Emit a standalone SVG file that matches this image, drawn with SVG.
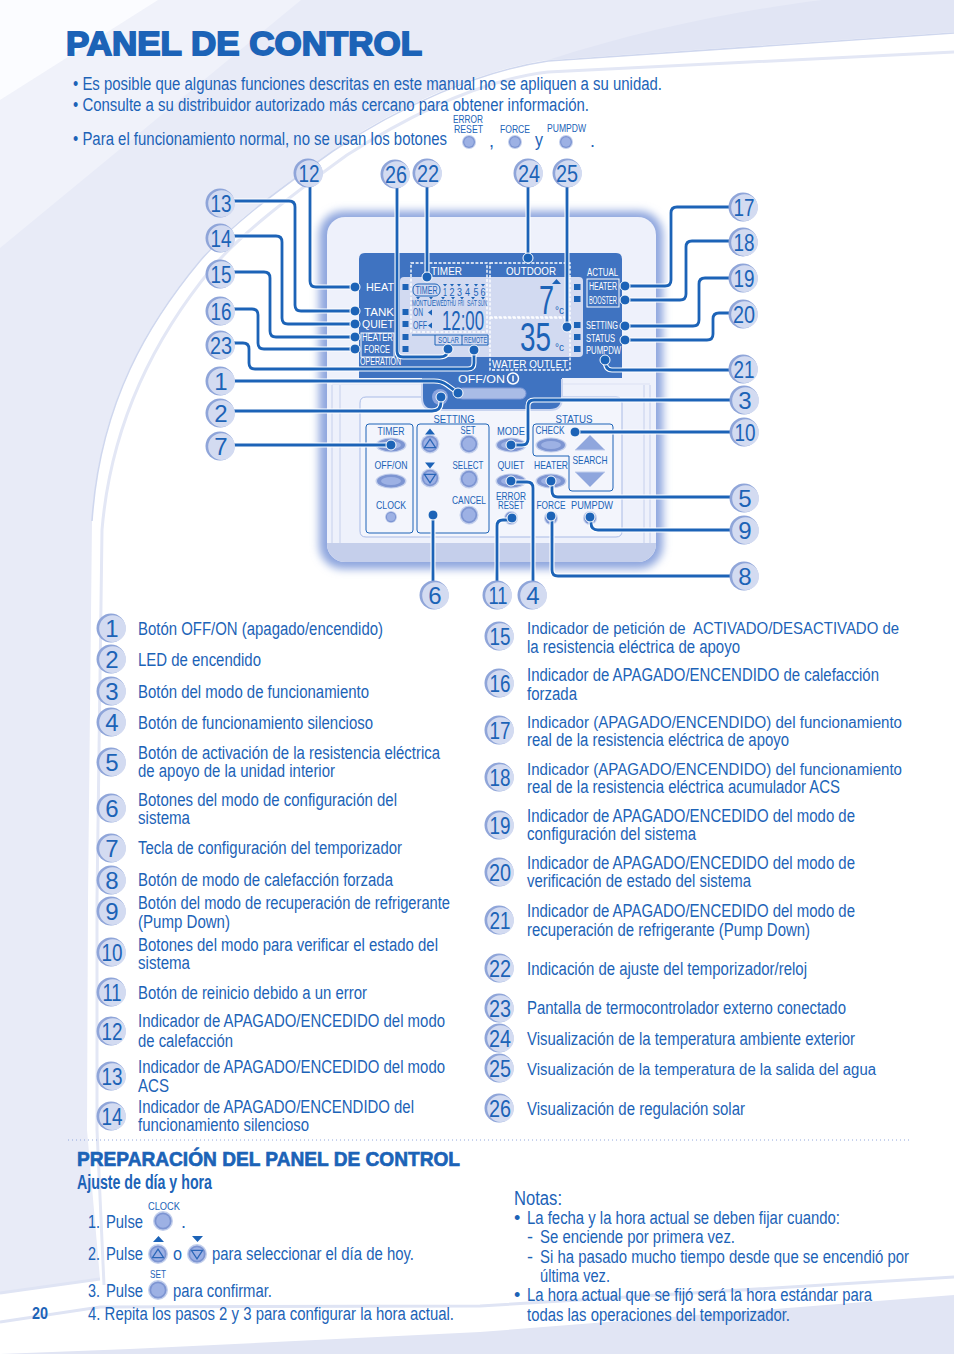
<svg xmlns="http://www.w3.org/2000/svg" width="954" height="1354" viewBox="0 0 954 1354">
<style>
text{font-family:"Liberation Sans",Arial,sans-serif;fill:#1c63b7}
.t{font-size:18px}
.tn{font-size:17.3px}
.n{font-size:24px}
.s{font-size:10.5px}
.w{fill:#fff;font-size:11px}
.x{fill:#fff;font-size:10px}
.l{font-size:8.5px}
.ln{fill:none;stroke:#1c63b7;stroke-width:1}
.wl{fill:none;stroke:#fff;stroke-width:1}
.da{fill:none;stroke:#fff;stroke-width:1.4;stroke-dasharray:3 1.6}
.d{fill:#1c63b7;stroke:#fff;stroke-width:1}
.sq{fill:#1c63b7}
</style>
<defs>
<filter id="blur" x="-10%" y="-10%" width="120%" height="120%"><feGaussianBlur stdDeviation="4"/></filter>
<g id="badge"><circle r="14.5" fill="#8fa5d9"/><circle cx="1.6" cy="0.6" r="13.4" fill="#d3dbf1"/></g>
<g id="rb"><circle r="1" fill="#c3cfec"/><circle r="0.86" fill="#7d95d2"/><circle r="0.68" fill="#9db1e4"/></g>
<g id="eb"><ellipse rx="15.500" ry="7.500" fill="#c3cfec"/><ellipse rx="14" ry="6.400" fill="#7d95d2"/><ellipse rx="10" ry="4" fill="#9db1e4"/></g>
<path id="tu" d="M0-.55 .62 .4H-.62Z" fill="none" stroke="#2a66b8" stroke-width=".14"/>
<path id="td" d="M0 .55 .62-.4H-.62Z" fill="none" stroke="#2a66b8" stroke-width=".14"/>
</defs>

<g id="background">
<rect width="954" height="1354" fill="#fff"/>
<path d="M0 0H954V32L548 60C480 70 400 105 333 150C270 195 230 225 200 260C150 320 100 400 92 520L88 900 87 1130 100 1279 0 1293Z" fill="#e8ebf7"/>
<path d="M0 0H301L0 248Z" fill="#f0f2fa"/>
<path d="M0 0H158L0 100Z" fill="#fbfcff"/>
<path d="M822 0H954V32L548 60C640 30 740 10 822 0Z" fill="#e1e5f4"/>
<path d="M954 52 548 72C480 80 410 115 347 155C285 200 240 235 212 268C165 325 112 410 102 530L97 900 97 1130 104 1285" fill="none" stroke="#e3e7f5" stroke-width="3"/>
<path d="M954 33 548 61C480 71 400 106 333 151C270 196 230 226 200 261C150 321 100 401 92 521" fill="none" stroke="#cfd7ee" stroke-width="1.600"/>
<path d="M0 1322 100 1307 480 1306 954 1277" fill="none" stroke="#dfe4f4" stroke-width="3"/>
<path d="M0 1293 100 1279" fill="none" stroke="#dfe4f4" stroke-width="3"/>
<path d="M0 1354 130 1349 480 1332 954 1295V1354Z" fill="#e1e5f4"/>
</g>

<g id="controller">
<rect x="319" y="211" width="344" height="358" rx="24" fill="#8ea6de" filter="url(#blur)"/>
<rect x="327" y="217" width="329" height="345" rx="18" fill="#eef1fb"/>
<path d="M327 543H656V544A18 18 0 0 1 638 562H345A18 18 0 0 1 327 544Z" fill="#c5cfeb"/>
<path d="M332 385V543M340 385V543M650 385V543M644 385V543" stroke="#cdd6ef" stroke-width="1.200" fill="none"/>
<path d="M332 384H650" stroke="#dce2f4" stroke-width="1.200"/>
<path d="M368 397H616Q622 397 622 403V531Q622 537 616 537H366Q360 537 360 531V403Q360 397 366 397Z" fill="#f3f5fc" stroke="#a9bbe6" stroke-width="1"/>
<path d="M365 253H616Q622 253 622 259V378H562V398Q562 410 550 410H434Q422 410 422 398V378H359V259Q359 253 365 253Z" fill="#3f73c1"/>
<path d="M422 379V398Q422 410 434 410H550Q562 410 562 398V379" fill="none" stroke="#c9d4ef" stroke-width="2"/>
<rect x="400" y="277" width="183" height="80" rx="4" fill="#d2daf1"/>
<rect x="411" y="263" width="76" height="14" fill="#3f73c1"/>
<rect x="490" y="263" width="80" height="14" fill="#3f73c1"/>
<path d="M412 335H488M435 335V345M462 335V345M488 335V345M435 345H488" class="ln"/>
<rect x="490" y="357" width="80" height="13" fill="#3f73c1"/>
<g class="sq">
<rect x="402.500" y="284" width="6" height="6"/><rect x="402.500" y="309" width="6" height="6"/><rect x="402.500" y="321" width="6" height="6"/><rect x="402.500" y="334" width="6" height="6"/><rect x="402.500" y="346" width="6" height="6"/>
<rect x="574" y="284" width="6.500" height="6"/><rect x="574" y="296" width="6.500" height="6"/><rect x="574" y="322" width="6.500" height="6"/><rect x="574" y="334" width="6.500" height="6"/><rect x="574" y="346" width="6.500" height="6"/>
</g>
<rect x="411" y="263" width="76" height="69" class="da"/>
<rect x="490" y="263" width="80" height="54" class="da"/>
<rect x="490" y="318" width="80" height="52" class="da"/>
<rect x="361" y="333" width="33" height="24" class="wl"/>
<rect x="587" y="279" width="32" height="28" class="wl"/>
<text class="w" x="366" y="291" textLength="28" lengthAdjust="spacingAndGlyphs">HEAT</text>
<text class="w" x="364" y="316" textLength="30" lengthAdjust="spacingAndGlyphs">TANK</text>
<text class="w" x="362" y="328" textLength="32" lengthAdjust="spacingAndGlyphs">QUIET</text>
<text class="x" x="362" y="341" textLength="31" lengthAdjust="spacingAndGlyphs">HEATER</text>
<text class="x" x="364" y="353" textLength="26" lengthAdjust="spacingAndGlyphs">FORCE</text>
<text class="x" x="360" y="365" textLength="41" lengthAdjust="spacingAndGlyphs">OPERATION</text>
<text class="w" x="431" y="275" textLength="31" lengthAdjust="spacingAndGlyphs">TIMER</text>
<text class="w" x="506" y="275" textLength="50" lengthAdjust="spacingAndGlyphs">OUTDOOR</text>
<text class="w" x="492" y="368" textLength="76" lengthAdjust="spacingAndGlyphs">WATER OUTLET</text>
<text class="x" x="587" y="276" textLength="31" lengthAdjust="spacingAndGlyphs">ACTUAL</text>
<text class="x" x="589" y="290" textLength="28" lengthAdjust="spacingAndGlyphs">HEATER</text>
<text class="x" x="589" y="304" textLength="28" lengthAdjust="spacingAndGlyphs">BOOSTER</text>
<text class="x" x="586" y="329" textLength="32" lengthAdjust="spacingAndGlyphs">SETTING</text>
<text class="x" x="586" y="342" textLength="29" lengthAdjust="spacingAndGlyphs">STATUS</text>
<text class="x" x="586" y="354" textLength="35" lengthAdjust="spacingAndGlyphs">PUMPDW</text>
<rect x="413" y="284" width="27" height="12" rx="5" class="ln"/>
<text x="415.500" y="294" style="font-size:10px" textLength="22" lengthAdjust="spacingAndGlyphs">TIMER</text>
<path d="M443 284h4l-2 2.500zM450 284h4l-2 2.500zM457 284h4l-2 2.500zM465 284h4l-2 2.500zM474 284h4l-2 2.500zM481 284h4l-2 2.500zM416 297h4l-2 2.500zM429 297h4l-2 2.500zM441 297h4l-2 2.500zM451 297h4l-2 2.500zM460 297h4l-2 2.500zM471 297h4l-2 2.500zM481 297h4l-2 2.500z" fill="#1c63b7"/>
<text x="445" y="296" style="font-size:11px" text-anchor="middle" textLength="4" lengthAdjust="spacingAndGlyphs">1</text>
<text x="452" y="296" style="font-size:11px" text-anchor="middle" textLength="5" lengthAdjust="spacingAndGlyphs">2</text>
<text x="459.500" y="296" style="font-size:11px" text-anchor="middle" textLength="5" lengthAdjust="spacingAndGlyphs">3</text>
<text x="467.500" y="296" style="font-size:11px" text-anchor="middle" textLength="5" lengthAdjust="spacingAndGlyphs">4</text>
<text x="476" y="296" style="font-size:11px" text-anchor="middle" textLength="5" lengthAdjust="spacingAndGlyphs">5</text>
<text x="483" y="296" style="font-size:11px" text-anchor="middle" textLength="5" lengthAdjust="spacingAndGlyphs">6</text>
<text class="l" x="412" y="306" textLength="11" lengthAdjust="spacingAndGlyphs">MON</text>
<text class="l" x="423" y="306" textLength="13" lengthAdjust="spacingAndGlyphs">TUE</text>
<text class="l" x="436" y="306" textLength="11" lengthAdjust="spacingAndGlyphs">WED</text>
<text class="l" x="447" y="306" textLength="9" lengthAdjust="spacingAndGlyphs">THU</text>
<text class="l" x="458" y="306" textLength="6" lengthAdjust="spacingAndGlyphs">FRI</text>
<text class="l" x="467" y="306" textLength="10" lengthAdjust="spacingAndGlyphs">SAT</text>
<text class="l" x="478" y="306" textLength="9" lengthAdjust="spacingAndGlyphs">SUN</text>
<text x="413" y="316" style="font-size:10px" textLength="10" lengthAdjust="spacingAndGlyphs">ON</text>
<text x="413" y="329" style="font-size:10px" textLength="14" lengthAdjust="spacingAndGlyphs">OFF</text>
<path d="M428 312.500l4-3v6zM428 325.500l4-3v6zM561 284h-9l4.500-5z" fill="#1c63b7"/>
<text x="442" y="330" style="font-size:27px" textLength="42" lengthAdjust="spacingAndGlyphs">12:00</text>
<text x="539" y="314" style="font-size:40px" textLength="15" lengthAdjust="spacingAndGlyphs">7</text>
<text x="520" y="351" style="font-size:40px" textLength="31" lengthAdjust="spacingAndGlyphs">35</text>
<text x="555" y="314" style="font-size:10px" textLength="9" lengthAdjust="spacingAndGlyphs">°c</text>
<text x="555" y="351" style="font-size:10px" textLength="9" lengthAdjust="spacingAndGlyphs">°c</text>
<text class="l" x="438" y="343" textLength="21" lengthAdjust="spacingAndGlyphs">SOLAR</text>
<text class="l" x="464" y="343" textLength="23" lengthAdjust="spacingAndGlyphs">REMOTE</text>
<text class="w" x="458" y="383" textLength="47" lengthAdjust="spacingAndGlyphs">OFF/ON</text>
<circle cx="513" cy="378.500" r="5.500" fill="none" stroke="#fff" stroke-width="1.500"/>
<path d="M513 375.500v6" stroke="#fff" stroke-width="1.500"/>
<rect x="457" y="388" width="69" height="11" rx="5.500" fill="#a9bce6" stroke="#7f9ad8"/>
<circle cx="440" cy="397" r="8" fill="#8aa4de"/>

<text class="s" x="454" y="423" text-anchor="middle" textLength="41" lengthAdjust="spacingAndGlyphs">SETTING</text>
<text class="s" x="574" y="423" text-anchor="middle" textLength="37" lengthAdjust="spacingAndGlyphs">STATUS</text>
<rect x="366" y="424" width="47" height="109" rx="3" class="ln"/>
<rect x="417" y="424" width="72" height="109" rx="3" class="ln"/>
<path d="M536 424H610Q613 424 613 427V488Q613 491 610 491H572Q569 491 569 488V456H536Q533 456 533 453V427Q533 424 536 424Z" class="ln"/>
<text class="s" x="391" y="435" text-anchor="middle" textLength="27" lengthAdjust="spacingAndGlyphs">TIMER</text>
<text class="s" x="391" y="469" text-anchor="middle" textLength="33" lengthAdjust="spacingAndGlyphs">OFF/ON</text>
<text class="s" x="391" y="509" text-anchor="middle" textLength="30" lengthAdjust="spacingAndGlyphs">CLOCK</text>
<text class="s" x="468" y="434" text-anchor="middle" textLength="15" lengthAdjust="spacingAndGlyphs">SET</text>
<text class="s" x="468" y="469" text-anchor="middle" textLength="31" lengthAdjust="spacingAndGlyphs">SELECT</text>
<text class="s" x="469" y="504" text-anchor="middle" textLength="34" lengthAdjust="spacingAndGlyphs">CANCEL</text>
<text class="s" x="511" y="435" text-anchor="middle" textLength="28" lengthAdjust="spacingAndGlyphs">MODE</text>
<text class="s" x="511" y="469" text-anchor="middle" textLength="27" lengthAdjust="spacingAndGlyphs">QUIET</text>
<text class="s" x="551" y="469" text-anchor="middle" textLength="34" lengthAdjust="spacingAndGlyphs">HEATER</text>
<text class="s" x="550" y="434" text-anchor="middle" textLength="29" lengthAdjust="spacingAndGlyphs">CHECK</text>
<text class="s" x="590" y="464" text-anchor="middle" textLength="35" lengthAdjust="spacingAndGlyphs">SEARCH</text>
<text class="s" x="511" y="500" text-anchor="middle" textLength="30" lengthAdjust="spacingAndGlyphs">ERROR</text>
<text class="s" x="511" y="509" text-anchor="middle" textLength="26" lengthAdjust="spacingAndGlyphs">RESET</text>
<text class="s" x="551" y="509" text-anchor="middle" textLength="29" lengthAdjust="spacingAndGlyphs">FORCE</text>
<text class="s" x="592" y="509" text-anchor="middle" textLength="42" lengthAdjust="spacingAndGlyphs">PUMPDW</text>
<use href="#eb" transform="translate(391,445)"/>
<use href="#eb" transform="translate(391,481)"/>
<use href="#rb" transform="translate(391,517) scale(6)"/>
<use href="#rb" transform="translate(430,444) scale(9.500)"/>
<use href="#tu" transform="translate(430,444) scale(9)"/>
<use href="#rb" transform="translate(430,478) scale(9.500)"/>
<use href="#td" transform="translate(430,478) scale(9)"/>
<path d="M425 434.500h10l-5-6zM425 462.500h10l-5 6z" fill="#1c63b7"/>
<use href="#rb" transform="translate(469,444) scale(9.500)"/>
<use href="#rb" transform="translate(469,479) scale(9.500)"/>
<use href="#rb" transform="translate(469,515) scale(9.500)"/>
<use href="#eb" transform="translate(511,445)"/>
<use href="#eb" transform="translate(511,481)"/>
<use href="#eb" transform="translate(551,481)"/>
<use href="#eb" transform="translate(551,445)"/>
<use href="#rb" transform="translate(511,518) scale(7)"/>
<use href="#rb" transform="translate(551,518) scale(7)"/>
<use href="#rb" transform="translate(590,518) scale(7)"/>
<path d="M575 450H605L590 435ZM575 472H605L590 487Z" fill="#8fa6dd" stroke="#c3cfec" stroke-width="1"/>
</g>

<g id="connectors" fill="none">
<use href="#wires" stroke="#fff" stroke-width="5"/>
<g stroke="#1c63b7" stroke-width="2.800">
<g id="wires">
<path d="M310 187V281Q310 287 316 287H355"/>
<path d="M234 201H289Q295 201 295 207V305Q295 311 301 311H355"/>
<path d="M234 236H276Q282 236 282 242V318Q282 324 288 324H355"/>
<path d="M234 272H264Q270 272 270 278V331Q270 337 276 337H355"/>
<path d="M234 309H252Q258 309 258 315V343Q258 349 264 349H355"/>
<path d="M234 343H243Q249 343 249 349V363Q249 369 255 369H468Q474 369 474 363V350"/>
<path d="M234 381H434Q442 381 447 385L458 393"/>
<path d="M234 411H432Q441 411 441 402V397"/>
<path d="M234 445H391"/>
<path d="M397 187V351Q397 357 403 357H440Q448 357 448 349"/>
<path d="M427 187V277"/>
<path d="M528 187V258"/>
<path d="M567 187V327"/>
<path d="M730 207H677Q671 207 671 213V280Q671 286 665 286H625"/>
<path d="M730 241H692Q686 241 686 247V294Q686 300 680 300H625"/>
<path d="M730 278H705Q699 278 699 284V320Q699 326 693 326H625"/>
<path d="M730 313H719Q713 313 713 319V334Q713 340 707 340H625"/>
<path d="M730 370H612Q605 370 605 360"/>
<path d="M730 400H534Q528 400 528 406V439Q528 445 522 445H511"/>
<path d="M730 432H575"/>
<path d="M730 497H558Q552 497 552 491V481"/>
<path d="M730 530H598Q591 530 591 523V517"/>
<path d="M730 576H558Q552 576 552 570V516"/>
<path d="M533 581V488Q533 482 527 482H511"/>
<path d="M497 581V526Q497 520 503 520H512"/>
<path d="M433 581V515"/>
</g>
</g>
<g class="dots">
<circle class="d" cx="355" cy="287" r="5"/><circle class="d" cx="355" cy="311" r="5"/><circle class="d" cx="355" cy="324" r="5"/><circle class="d" cx="355" cy="337" r="5"/><circle class="d" cx="355" cy="349" r="5"/>
<circle class="d" cx="474" cy="350" r="5"/><circle class="d" cx="458" cy="393" r="5"/><circle class="d" cx="441" cy="397" r="5"/><circle class="d" cx="391" cy="445" r="5"/><circle class="d" cx="448" cy="349" r="5"/><circle class="d" cx="427" cy="277" r="5"/><circle class="d" cx="528" cy="258" r="5"/><circle class="d" cx="567" cy="327" r="5"/>
<circle class="d" cx="625" cy="286" r="5"/><circle class="d" cx="625" cy="300" r="5"/><circle class="d" cx="625" cy="326" r="5"/><circle class="d" cx="625" cy="340" r="5"/><circle class="d" cx="605" cy="360" r="5"/>
<circle class="d" cx="511" cy="445" r="5"/><circle class="d" cx="575" cy="432" r="5"/><circle class="d" cx="551" cy="481" r="5"/><circle class="d" cx="590" cy="517" r="5"/><circle class="d" cx="551" cy="516" r="5"/><circle class="d" cx="511" cy="481" r="5"/><circle class="d" cx="512" cy="518" r="5"/><circle class="d" cx="433" cy="515" r="5"/>
</g>
</g>

<g id="heading">
<text x="66" y="55" style="font-size:34px" font-weight="bold" stroke="#1c63b7" stroke-width="1.800" textLength="356" lengthAdjust="spacingAndGlyphs">PANEL DE CONTROL</text>
<text class="t" x="73" y="90" textLength="589" lengthAdjust="spacingAndGlyphs">• Es posible que algunas funciones descritas en este manual no se apliquen a su unidad.</text>
<text class="t" x="73" y="111" textLength="516" lengthAdjust="spacingAndGlyphs">• Consulte a su distribuidor autorizado más cercano para obtener información.</text>
<text class="t" x="73" y="145" textLength="374" lengthAdjust="spacingAndGlyphs">• Para el funcionamiento normal, no se usan los botones</text>
<text class="s" x="453" y="123" textLength="30" lengthAdjust="spacingAndGlyphs">ERROR</text>
<text class="s" x="454" y="133" textLength="29" lengthAdjust="spacingAndGlyphs">RESET</text>
<text class="s" x="500" y="133" textLength="30" lengthAdjust="spacingAndGlyphs">FORCE</text>
<text class="s" x="547" y="132" textLength="39" lengthAdjust="spacingAndGlyphs">PUMPDW</text>
<use href="#rb" transform="translate(469,142) scale(7)"/>
<use href="#rb" transform="translate(515,142) scale(7)"/>
<use href="#rb" transform="translate(566,142) scale(7)"/>
<text class="t" x="489" y="147">,</text>
<text class="t" x="535" y="146" textLength="8" lengthAdjust="spacingAndGlyphs">y</text>
<text class="t" x="590" y="147">.</text>
</g>

<g id="callouts">
<g id="c12"><use href="#badge" x="308" y="173"/><text class="n" x="309" y="181.500" text-anchor="middle" textLength="21" lengthAdjust="spacingAndGlyphs">12</text></g>
<g id="c26"><use href="#badge" x="395" y="174"/><text class="n" x="396" y="182.500" text-anchor="middle" textLength="22" lengthAdjust="spacingAndGlyphs">26</text></g>
<g id="c22"><use href="#badge" x="427" y="173"/><text class="n" x="428" y="181.500" text-anchor="middle" textLength="22" lengthAdjust="spacingAndGlyphs">22</text></g>
<g id="c24"><use href="#badge" x="528" y="173"/><text class="n" x="529" y="181.500" text-anchor="middle" textLength="22" lengthAdjust="spacingAndGlyphs">24</text></g>
<g id="c25"><use href="#badge" x="567" y="173"/><text class="n" x="567" y="181.500" text-anchor="middle" textLength="22" lengthAdjust="spacingAndGlyphs">25</text></g>
<g id="c13"><use href="#badge" x="220" y="203"/><text class="n" x="221" y="211.500" text-anchor="middle" textLength="21" lengthAdjust="spacingAndGlyphs">13</text></g>
<g id="c14"><use href="#badge" x="220" y="238"/><text class="n" x="221" y="246.500" text-anchor="middle" textLength="21" lengthAdjust="spacingAndGlyphs">14</text></g>
<g id="c15"><use href="#badge" x="220" y="274"/><text class="n" x="221" y="282.500" text-anchor="middle" textLength="21" lengthAdjust="spacingAndGlyphs">15</text></g>
<g id="c16"><use href="#badge" x="220" y="311"/><text class="n" x="221" y="319.500" text-anchor="middle" textLength="21" lengthAdjust="spacingAndGlyphs">16</text></g>
<g id="c23"><use href="#badge" x="220" y="345"/><text class="n" x="221" y="353.500" text-anchor="middle" textLength="22" lengthAdjust="spacingAndGlyphs">23</text></g>
<g id="c1"><use href="#badge" x="220" y="381"/><text class="n" x="221" y="389.500" text-anchor="middle">1</text></g>
<g id="c2"><use href="#badge" x="220" y="413"/><text class="n" x="221" y="421.500" text-anchor="middle">2</text></g>
<g id="c7"><use href="#badge" x="220" y="446"/><text class="n" x="221" y="454.500" text-anchor="middle">7</text></g>
<g id="c17"><use href="#badge" x="743" y="207"/><text class="n" x="744" y="215.500" text-anchor="middle" textLength="21" lengthAdjust="spacingAndGlyphs">17</text></g>
<g id="c18"><use href="#badge" x="743" y="242"/><text class="n" x="744" y="250.500" text-anchor="middle" textLength="21" lengthAdjust="spacingAndGlyphs">18</text></g>
<g id="c19"><use href="#badge" x="743" y="278"/><text class="n" x="744" y="286.500" text-anchor="middle" textLength="21" lengthAdjust="spacingAndGlyphs">19</text></g>
<g id="c20"><use href="#badge" x="743" y="314"/><text class="n" x="744" y="322.500" text-anchor="middle" textLength="22" lengthAdjust="spacingAndGlyphs">20</text></g>
<g id="c21"><use href="#badge" x="743" y="369"/><text class="n" x="744" y="377.500" text-anchor="middle" textLength="21" lengthAdjust="spacingAndGlyphs">21</text></g>
<g id="c3"><use href="#badge" x="744" y="400"/><text class="n" x="745" y="408.500" text-anchor="middle">3</text></g>
<g id="c10"><use href="#badge" x="744" y="432"/><text class="n" x="745" y="440.500" text-anchor="middle" textLength="21" lengthAdjust="spacingAndGlyphs">10</text></g>
<g id="c5"><use href="#badge" x="744" y="498"/><text class="n" x="745" y="506.500" text-anchor="middle">5</text></g>
<g id="c9"><use href="#badge" x="744" y="530"/><text class="n" x="745" y="538.500" text-anchor="middle">9</text></g>
<g id="c8"><use href="#badge" x="744" y="576"/><text class="n" x="745" y="584.500" text-anchor="middle">8</text></g>
<g id="c6"><use href="#badge" x="434" y="595"/><text class="n" x="435" y="603.500" text-anchor="middle">6</text></g>
<g id="c11"><use href="#badge" x="497" y="595"/><text class="n" x="498" y="603.500" text-anchor="middle" textLength="19" lengthAdjust="spacingAndGlyphs">11</text></g>
<g id="c4"><use href="#badge" x="532" y="595"/><text class="n" x="533" y="603.500" text-anchor="middle">4</text></g>
</g>

<g id="legend-left">
<g id="l1"><use href="#badge" x="111" y="628"/><text class="n" x="112" y="636.500" text-anchor="middle">1</text><text class="t" x="138" y="635" textLength="245" lengthAdjust="spacingAndGlyphs">Botón OFF/ON (apagado/encendido)</text></g>
<g id="l2"><use href="#badge" x="111" y="659"/><text class="n" x="112" y="667.500" text-anchor="middle">2</text><text class="t" x="138" y="666" textLength="123" lengthAdjust="spacingAndGlyphs">LED de encendido</text></g>
<g id="l3"><use href="#badge" x="111" y="691"/><text class="n" x="112" y="699.500" text-anchor="middle">3</text><text class="t" x="138" y="698" textLength="231" lengthAdjust="spacingAndGlyphs">Botón del modo de funcionamiento</text></g>
<g id="l4"><use href="#badge" x="111" y="722"/><text class="n" x="112" y="730.500" text-anchor="middle">4</text><text class="t" x="138" y="729" textLength="235" lengthAdjust="spacingAndGlyphs">Botón de funcionamiento silencioso</text></g>
<g id="l5"><use href="#badge" x="111" y="762"/><text class="n" x="112" y="770.500" text-anchor="middle">5</text><text class="t" x="138" y="759" textLength="302" lengthAdjust="spacingAndGlyphs">Botón de activación de la resistencia eléctrica</text><text class="t" x="138" y="777" textLength="197" lengthAdjust="spacingAndGlyphs">de apoyo de la unidad interior</text></g>
<g id="l6"><use href="#badge" x="111" y="808"/><text class="n" x="112" y="816.500" text-anchor="middle">6</text><text class="t" x="138" y="806" textLength="259" lengthAdjust="spacingAndGlyphs">Botones del modo de configuración del</text><text class="t" x="138" y="824" textLength="52" lengthAdjust="spacingAndGlyphs">sistema</text></g>
<g id="l7"><use href="#badge" x="111" y="848"/><text class="n" x="112" y="856.500" text-anchor="middle">7</text><text class="t" x="138" y="854" textLength="264" lengthAdjust="spacingAndGlyphs">Tecla de configuración del temporizador</text></g>
<g id="l8"><use href="#badge" x="111" y="880"/><text class="n" x="112" y="888.500" text-anchor="middle">8</text><text class="t" x="138" y="886" textLength="255" lengthAdjust="spacingAndGlyphs">Botón de modo de calefacción forzada</text></g>
<g id="l9"><use href="#badge" x="111" y="911"/><text class="n" x="112" y="919.500" text-anchor="middle">9</text><text class="t" x="138" y="909" textLength="312" lengthAdjust="spacingAndGlyphs">Botón del modo de recuperación de refrigerante</text><text class="t" x="138" y="928" textLength="92" lengthAdjust="spacingAndGlyphs">(Pump Down)</text></g>
<g id="l10"><use href="#badge" x="111" y="952"/><text class="n" x="112" y="960.500" text-anchor="middle" textLength="21" lengthAdjust="spacingAndGlyphs">10</text><text class="t" x="138" y="951" textLength="300" lengthAdjust="spacingAndGlyphs">Botones del modo para verificar el estado del</text><text class="t" x="138" y="969" textLength="52" lengthAdjust="spacingAndGlyphs">sistema</text></g>
<g id="l11"><use href="#badge" x="111" y="992"/><text class="n" x="112" y="1000.500" text-anchor="middle" textLength="19" lengthAdjust="spacingAndGlyphs">11</text><text class="t" x="138" y="999" textLength="229" lengthAdjust="spacingAndGlyphs">Botón de reinicio debido a un error</text></g>
<g id="l12"><use href="#badge" x="111" y="1031"/><text class="n" x="112" y="1039.500" text-anchor="middle" textLength="21" lengthAdjust="spacingAndGlyphs">12</text><text class="t" x="138" y="1027" textLength="307" lengthAdjust="spacingAndGlyphs">Indicador de APAGADO/ENCEDIDO del modo</text><text class="t" x="138" y="1047" textLength="95" lengthAdjust="spacingAndGlyphs">de calefacción</text></g>
<g id="l13"><use href="#badge" x="111" y="1076"/><text class="n" x="112" y="1084.500" text-anchor="middle" textLength="21" lengthAdjust="spacingAndGlyphs">13</text><text class="t" x="138" y="1073" textLength="307" lengthAdjust="spacingAndGlyphs">Indicador de APAGADO/ENCEDIDO del modo</text><text class="t" x="138" y="1092" textLength="31" lengthAdjust="spacingAndGlyphs">ACS</text></g>
<g id="l14"><use href="#badge" x="111" y="1116"/><text class="n" x="112" y="1124.500" text-anchor="middle" textLength="21" lengthAdjust="spacingAndGlyphs">14</text><text class="t" x="138" y="1113" textLength="276" lengthAdjust="spacingAndGlyphs">Indicador de APAGADO/ENCENDIDO del</text><text class="t" x="138" y="1131" textLength="171" lengthAdjust="spacingAndGlyphs">funcionamiento silencioso</text></g>
</g>

<g id="legend-right">
<g id="l15"><use href="#badge" x="499" y="636"/><text class="n" x="500" y="644.500" text-anchor="middle" textLength="21" lengthAdjust="spacingAndGlyphs">15</text><text class="tn" x="527" y="634" textLength="372" lengthAdjust="spacingAndGlyphs" xml:space="preserve">Indicador de petición de  ACTIVADO/DESACTIVADO de</text><text class="t" x="527" y="653" textLength="213" lengthAdjust="spacingAndGlyphs">la resistencia eléctrica de apoyo</text></g>
<g id="l16"><use href="#badge" x="499" y="683"/><text class="n" x="500" y="691.500" text-anchor="middle" textLength="21" lengthAdjust="spacingAndGlyphs">16</text><text class="t" x="527" y="681" textLength="352" lengthAdjust="spacingAndGlyphs">Indicador de APAGADO/ENCENDIDO de calefacción</text><text class="t" x="527" y="700" textLength="50" lengthAdjust="spacingAndGlyphs">forzada</text></g>
<g id="l17"><use href="#badge" x="499" y="730"/><text class="n" x="500" y="738.500" text-anchor="middle" textLength="21" lengthAdjust="spacingAndGlyphs">17</text><text class="tn" x="527" y="728" textLength="375" lengthAdjust="spacingAndGlyphs">Indicador (APAGADO/ENCENDIDO) del funcionamiento</text><text class="t" x="527" y="746" textLength="262" lengthAdjust="spacingAndGlyphs">real de la resistencia eléctrica de apoyo</text></g>
<g id="l18"><use href="#badge" x="499" y="777"/><text class="n" x="500" y="785.500" text-anchor="middle" textLength="21" lengthAdjust="spacingAndGlyphs">18</text><text class="tn" x="527" y="775" textLength="375" lengthAdjust="spacingAndGlyphs">Indicador (APAGADO/ENCENDIDO) del funcionamiento</text><text class="t" x="527" y="793" textLength="313" lengthAdjust="spacingAndGlyphs">real de la resistencia eléctrica acumulador ACS</text></g>
<g id="l19"><use href="#badge" x="499" y="825"/><text class="n" x="500" y="833.500" text-anchor="middle" textLength="21" lengthAdjust="spacingAndGlyphs">19</text><text class="t" x="527" y="822" textLength="328" lengthAdjust="spacingAndGlyphs">Indicador de APAGADO/ENCEDIDO del modo de</text><text class="t" x="527" y="840" textLength="169" lengthAdjust="spacingAndGlyphs">configuración del sistema</text></g>
<g id="l20"><use href="#badge" x="499" y="872"/><text class="n" x="500" y="880.500" text-anchor="middle" textLength="22" lengthAdjust="spacingAndGlyphs">20</text><text class="t" x="527" y="869" textLength="328" lengthAdjust="spacingAndGlyphs">Indicador de APAGADO/ENCEDIDO del modo de</text><text class="t" x="527" y="887" textLength="224" lengthAdjust="spacingAndGlyphs">verificación de estado del sistema</text></g>
<g id="l21"><use href="#badge" x="499" y="920"/><text class="n" x="500" y="928.500" text-anchor="middle" textLength="21" lengthAdjust="spacingAndGlyphs">21</text><text class="t" x="527" y="917" textLength="328" lengthAdjust="spacingAndGlyphs">Indicador de APAGADO/ENCEDIDO del modo de</text><text class="t" x="527" y="936" textLength="283" lengthAdjust="spacingAndGlyphs">recuperación de refrigerante (Pump Down)</text></g>
<g id="l22"><use href="#badge" x="499" y="968"/><text class="n" x="500" y="976.500" text-anchor="middle" textLength="22" lengthAdjust="spacingAndGlyphs">22</text><text class="t" x="527" y="975" textLength="280" lengthAdjust="spacingAndGlyphs">Indicación de ajuste del temporizador/reloj</text></g>
<g id="l23"><use href="#badge" x="499" y="1008"/><text class="n" x="500" y="1016.500" text-anchor="middle" textLength="22" lengthAdjust="spacingAndGlyphs">23</text><text class="t" x="527" y="1014" textLength="319" lengthAdjust="spacingAndGlyphs">Pantalla de termocontrolador externo conectado</text></g>
<g id="l24"><use href="#badge" x="499" y="1038"/><text class="n" x="500" y="1046.500" text-anchor="middle" textLength="22" lengthAdjust="spacingAndGlyphs">24</text><text class="t" x="527" y="1045" textLength="328" lengthAdjust="spacingAndGlyphs">Visualización de la temperatura ambiente exterior</text></g>
<g id="l25"><use href="#badge" x="499" y="1068"/><text class="n" x="500" y="1076.500" text-anchor="middle" textLength="22" lengthAdjust="spacingAndGlyphs">25</text><text class="tn" x="527" y="1075" textLength="349" lengthAdjust="spacingAndGlyphs">Visualización de la temperatura de la salida del agua</text></g>
<g id="l26"><use href="#badge" x="499" y="1108"/><text class="n" x="500" y="1116.500" text-anchor="middle" textLength="22" lengthAdjust="spacingAndGlyphs">26</text><text class="t" x="527" y="1115" textLength="218" lengthAdjust="spacingAndGlyphs">Visualización de regulación solar</text></g>
</g>

<path id="divider" d="M68 1140H910" stroke="#8fa6dc" stroke-width="1" stroke-dasharray="1 3" fill="none"/>

<g id="steps">
<text x="77" y="1166" style="font-size:21px" font-weight="bold" stroke="#1c63b7" stroke-width=".7" textLength="383" lengthAdjust="spacingAndGlyphs">PREPARACIÓN DEL PANEL DE CONTROL</text>
<text x="77" y="1189" style="font-size:20px" font-weight="bold" textLength="135" lengthAdjust="spacingAndGlyphs">Ajuste de día y hora</text>
<text class="t" x="88" y="1228" textLength="12" lengthAdjust="spacingAndGlyphs">1.</text>
<text class="t" x="106" y="1228" textLength="37" lengthAdjust="spacingAndGlyphs">Pulse</text>
<text class="s" x="148" y="1210" textLength="32" lengthAdjust="spacingAndGlyphs">CLOCK</text>
<use href="#rb" transform="translate(163,1221) scale(10)"/>
<text class="t" x="181" y="1228">.</text>
<text class="t" x="88" y="1260" textLength="12" lengthAdjust="spacingAndGlyphs">2.</text>
<text class="t" x="106" y="1260" textLength="37" lengthAdjust="spacingAndGlyphs">Pulse</text>
<use href="#rb" transform="translate(158,1254) scale(10)"/>
<use href="#tu" transform="translate(158,1254) scale(9)"/>
<use href="#rb" transform="translate(197,1254) scale(10)"/>
<use href="#td" transform="translate(197,1254) scale(9)"/>
<path d="M153 1242h11l-5.500-6zM192 1236h11l-5.500 6z" fill="#1c63b7"/>
<text class="t" x="173" y="1260" textLength="9" lengthAdjust="spacingAndGlyphs">o</text>
<text class="t" x="212" y="1260" textLength="202" lengthAdjust="spacingAndGlyphs">para seleccionar el día de hoy.</text>
<text class="t" x="88" y="1297" textLength="12" lengthAdjust="spacingAndGlyphs">3.</text>
<text class="t" x="106" y="1297" textLength="37" lengthAdjust="spacingAndGlyphs">Pulse</text>
<text class="s" x="150" y="1278" textLength="16" lengthAdjust="spacingAndGlyphs">SET</text>
<use href="#rb" transform="translate(158,1290) scale(10)"/>
<text class="t" x="173" y="1297" textLength="99" lengthAdjust="spacingAndGlyphs">para confirmar.</text>
<text class="t" x="88" y="1320" textLength="366" lengthAdjust="spacingAndGlyphs">4. Repita los pasos 2 y 3 para configurar la hora actual.</text>
<text x="32" y="1319" style="font-size:16px" font-weight="bold" textLength="16" lengthAdjust="spacingAndGlyphs">20</text>
</g>

<g id="notes">
<text x="514" y="1205" style="font-size:20px" textLength="48" lengthAdjust="spacingAndGlyphs">Notas:</text>
<text class="t" x="514" y="1224">•</text>
<text class="t" x="527" y="1224" textLength="313" lengthAdjust="spacingAndGlyphs">La fecha y la hora actual se deben fijar cuando:</text>
<text class="t" x="527" y="1243">-</text>
<text class="t" x="540" y="1243" textLength="195" lengthAdjust="spacingAndGlyphs">Se enciende por primera vez.</text>
<text class="t" x="527" y="1263">-</text>
<text class="t" x="540" y="1263" textLength="369" lengthAdjust="spacingAndGlyphs">Si ha pasado mucho tiempo desde que se encendió por</text>
<text class="t" x="540" y="1282" textLength="70" lengthAdjust="spacingAndGlyphs">última vez.</text>
<text class="t" x="514" y="1301">•</text>
<text class="t" x="527" y="1301" textLength="345" lengthAdjust="spacingAndGlyphs">La hora actual que se fijó será la hora estándar para</text>
<text class="t" x="527" y="1321" textLength="263" lengthAdjust="spacingAndGlyphs">todas las operaciones del temporizador.</text>
</g>
</svg>
